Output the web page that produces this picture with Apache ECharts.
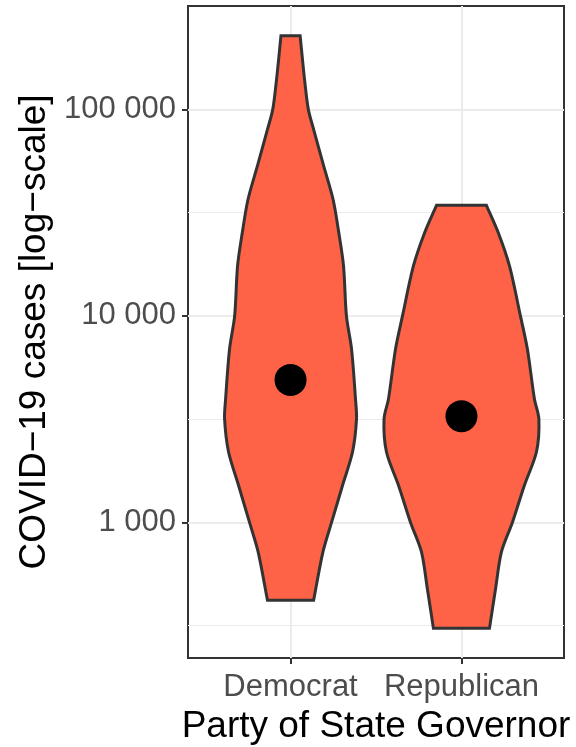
<!DOCTYPE html>
<html>
<head>
<meta charset="utf-8">
<script src="https://cdn.jsdelivr.net/npm/echarts@6/dist/echarts.min.js"></script>
<style>html,body{margin:0;padding:0;background:#fff}#chart{width:576px;height:747px}</style>
</head>
<body>
<div id="chart"></div>
<script>
const parties = ['Democrat', 'Republican'];
// violin outline, top to bottom: cases and half-width (share of category spacing)
const demCases = [227500, 173800, 139300, 100000, 80000, 53500, 36600, 25400, 17460, 10000, 6900, 3960, 3170, 2200, 1510, 1000, 722, 420];
const demWidth = [0.056, 0.070, 0.082, 0.104, 0.135, 0.193, 0.249, 0.282, 0.310, 0.327, 0.357, 0.380, 0.386, 0.363, 0.304, 0.240, 0.190, 0.135];
const repCases = [34300, 25350, 17450, 10000, 6900, 3960, 3170, 2200, 1510, 1000, 720, 480, 307];
const repWidth = [0.146, 0.215, 0.281, 0.345, 0.386, 0.427, 0.453, 0.439, 0.368, 0.298, 0.234, 0.200, 0.164];
const centerCases = [4900, 3270];
const majorTicks = [1000, 10000, 100000];
const minorTicks = [316.23, 3162.3, 31623];

const violins = [
  { cases: demCases, width: demWidth },
  { cases: repCases, width: repWidth },
];

const allCases = demCases.concat(repCases);
const lo = Math.log10(Math.min(...allCases));
const hi = Math.log10(Math.max(...allCases));
const pad = (hi - lo) * 0.05;

const fmt = (v) => Math.round(Math.pow(10, v)).toString().replace(/\B(?=(\d{3})+(?!\d))/g, ' ');

const chart = echarts.init(document.getElementById('chart'));

const option = {
  animation: false,
  textStyle: { fontFamily: 'Liberation Sans, Arial, sans-serif' },
  grid: {
    left: 188,
    right: 12,
    top: 6,
    bottom: 89,
    outerBoundsMode: 'none',
    containLabel: false,
    show: true,
    borderColor: '#333333',
    borderWidth: 2,
  },
  xAxis: {
    type: 'value',
    min: 0.4,
    max: 2.6,
    axisLine: { show: false },
    axisTick: {
      customValues: [1, 2],
      length: 6,
      lineStyle: { color: '#333333', width: 2 },
    },
    axisLabel: {
      customValues: [1, 2],
      formatter: (v) => parties[Math.round(v) - 1],
      color: '#4D4D4D',
      fontSize: 31,
      margin: 14,
    },
    splitLine: { show: true, lineStyle: { color: '#EBEBEB', width: 2 } },
    name: 'Party of State Governor',
    nameLocation: 'middle',
    nameGap: 50,
    nameTextStyle: { color: '#000', fontSize: 37 },
  },
  yAxis: [
    {
      type: 'value',
      min: lo - pad,
      max: hi + pad,
      axisLine: { show: false },
      axisTick: {
        customValues: majorTicks.map(Math.log10),
        length: 6,
        lineStyle: { color: '#333333', width: 2 },
      },
      axisLabel: {
        customValues: majorTicks.map(Math.log10),
        formatter: fmt,
        color: '#4D4D4D',
        fontSize: 31,
        margin: 12,
      },
      splitLine: { show: true, lineStyle: { color: '#EBEBEB', width: 2 } },
      name: 'COVID\u221219 cases [log\u2212scale]',
      nameLocation: 'middle',
      nameGap: 133,
      nameTextStyle: { color: '#000', fontSize: 37 },
    },
    {
      type: 'value',
      min: lo - pad,
      max: hi + pad,
      position: 'left',
      axisLine: { show: false },
      axisTick: { show: false, customValues: minorTicks.map(Math.log10) },
      axisLabel: { show: false },
      splitLine: { show: true, lineStyle: { color: '#EBEBEB', width: 1.2 } },
    },
  ],
  series: [
    {
      type: 'custom',
      data: parties.map((p, i) => [i + 1]),
      renderItem: function (params, api) {
        const v = violins[params.dataIndex];
        const x = api.value(0);
        const n = v.cases.length;
        const left = [];
        const right = [];
        for (let i = 0; i < n; i++) {
          const y = Math.log10(v.cases[i]);
          left.push(api.coord([x - v.width[i], y]));
          right.push(api.coord([x + v.width[i], y]));
        }
        // repeat end points so flat caps keep sharp corners after smoothing
        const pts = [left[0]].concat(left, [left[n - 1]], [right[n - 1]], right.slice().reverse(), [right[0]]);
        return {
          type: 'polygon',
          shape: { points: pts, smooth: 0.3 },
          style: { fill: '#FF6347', stroke: '#333333', lineWidth: 3 },
        };
      },
      z: 2,
    },
    {
      type: 'scatter',
      data: centerCases.map((c, i) => [i + 1, Math.log10(c)]),
      symbolSize: 32,
      itemStyle: { color: '#000', opacity: 1 },
      z: 3,
    },
  ],
};

chart.setOption(option);
</script>
</body>
</html>
